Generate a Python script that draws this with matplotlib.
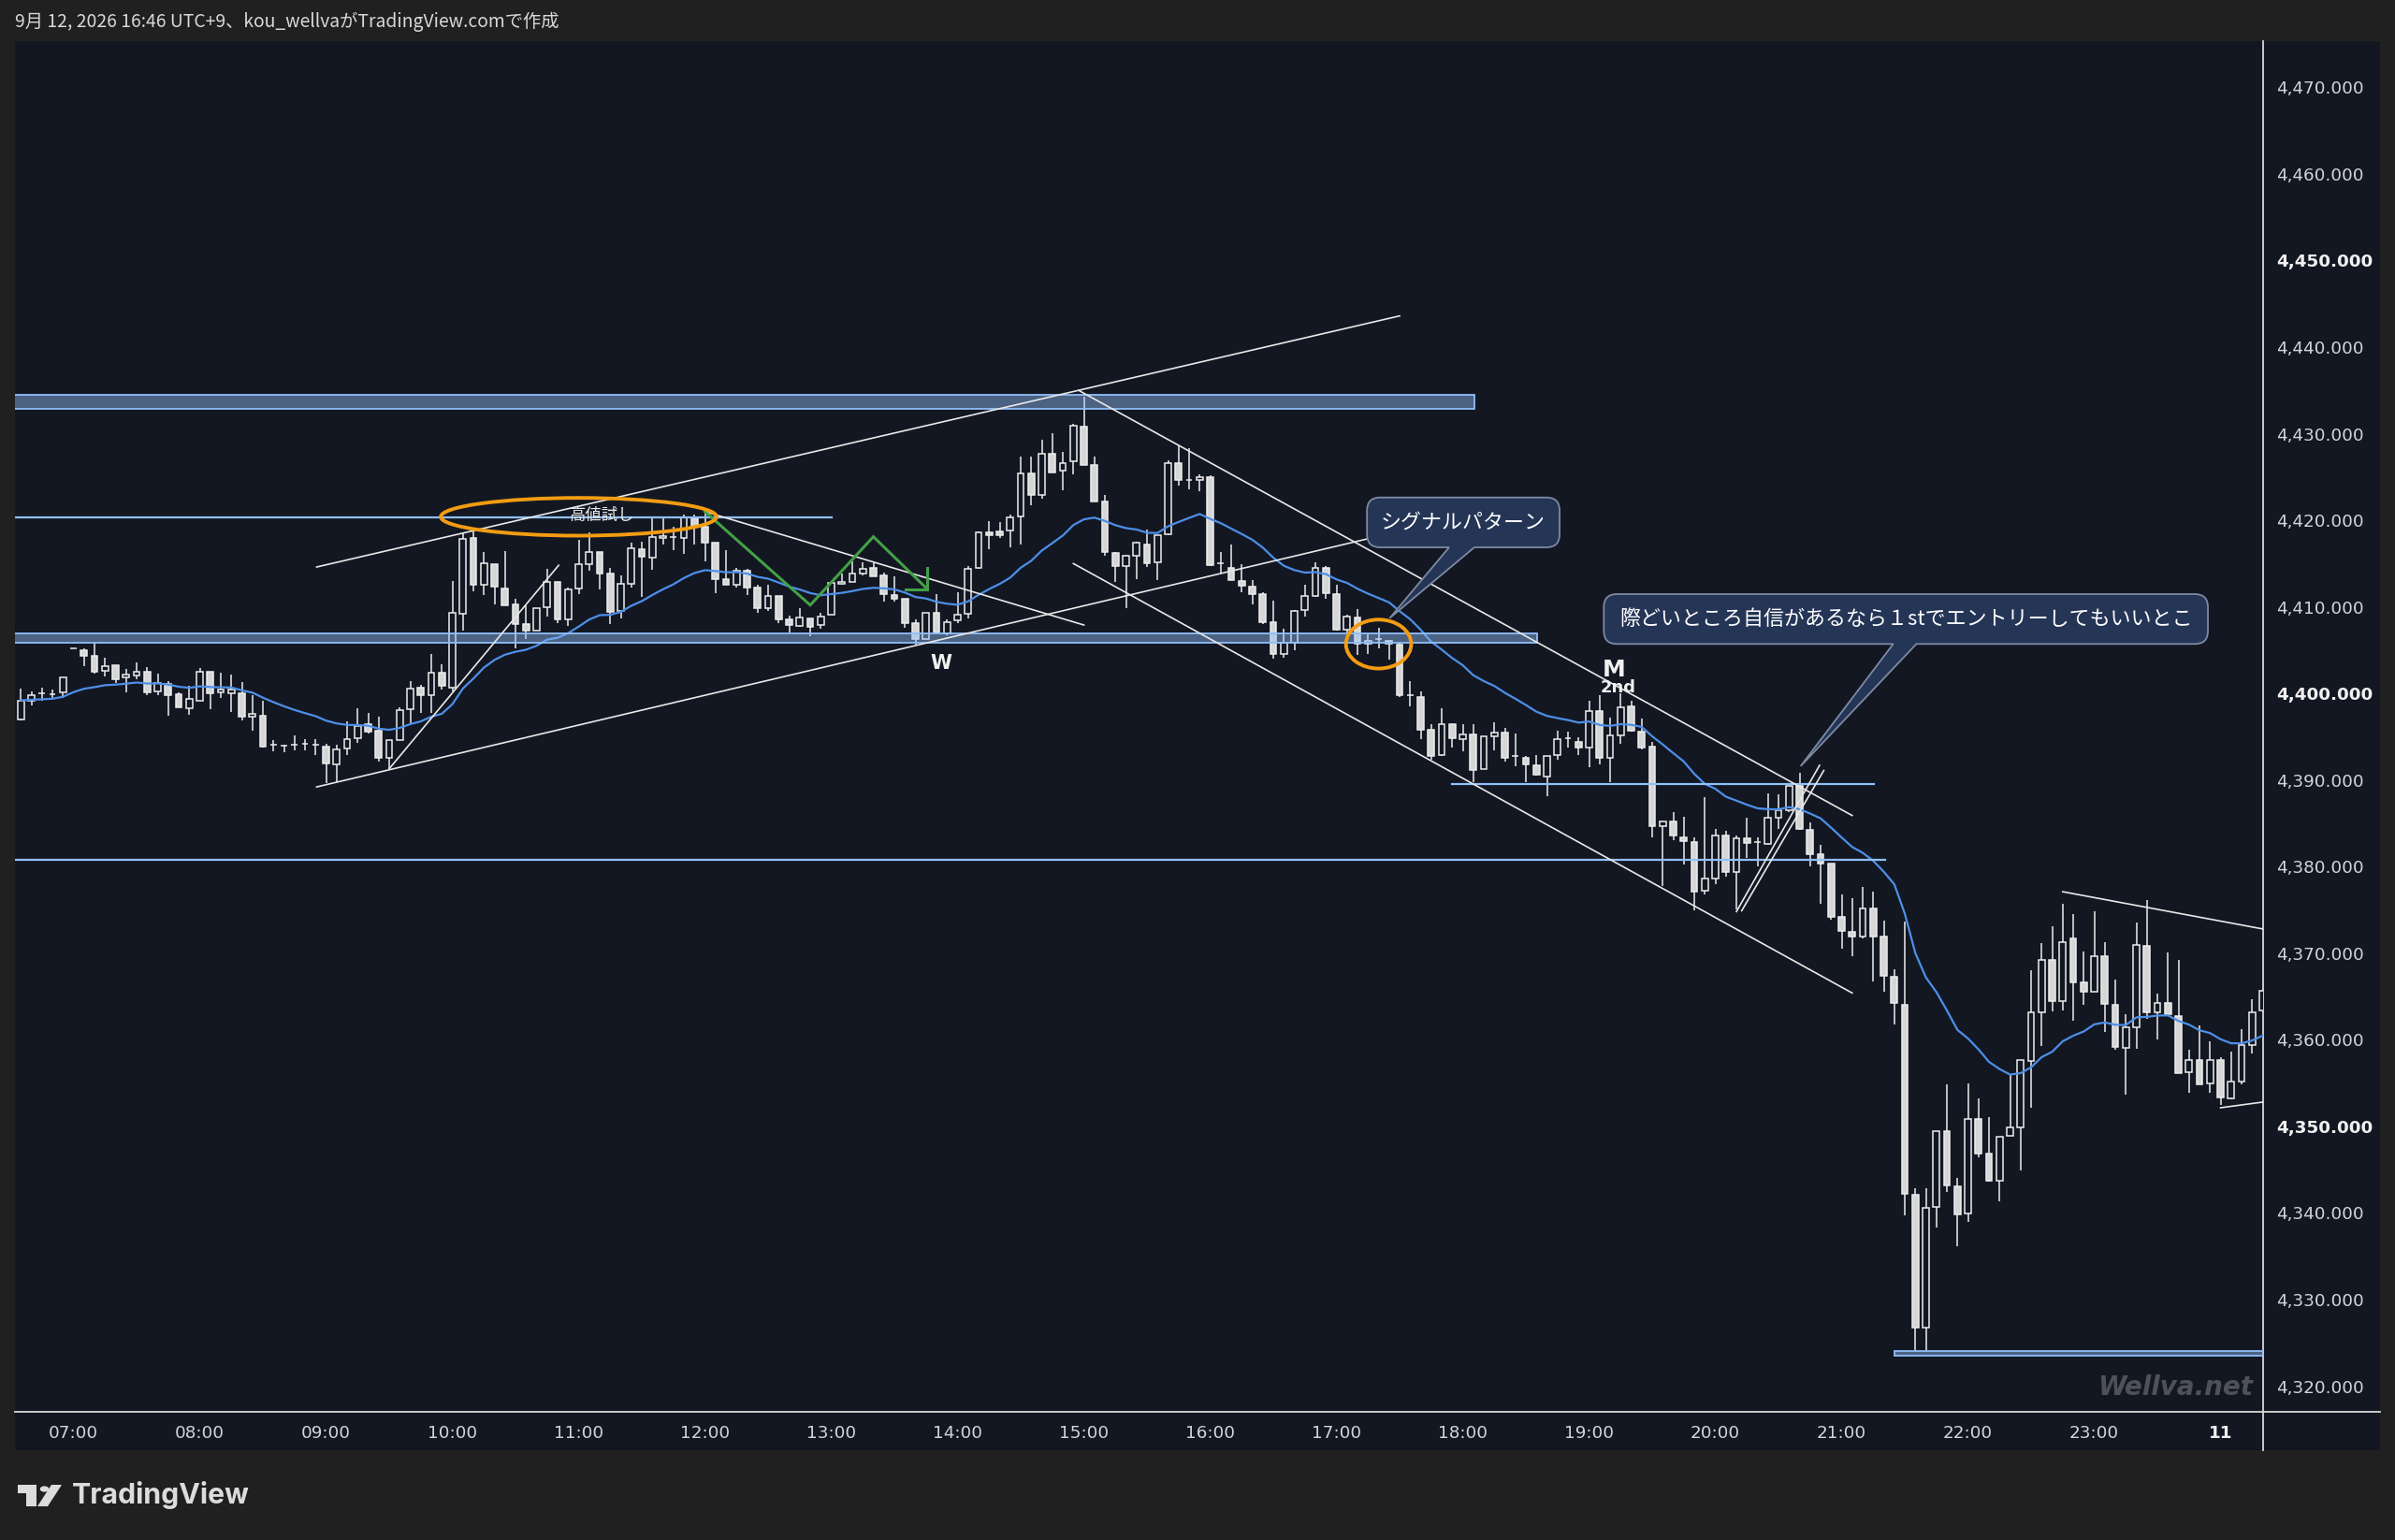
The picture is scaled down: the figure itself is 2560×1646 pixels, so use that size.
import numpy as np
import pandas as pd
import matplotlib
matplotlib.use('Agg')
import matplotlib.pyplot as plt
from matplotlib.patches import Rectangle, Ellipse, PathPatch, Polygon, Circle
from matplotlib.path import Path
from matplotlib.transforms import IdentityTransform
from matplotlib.lines import Line2D

plt.rcParams['font.family'] = ['Noto Sans CJK JP', 'DejaVu Sans']

# ---------------- data (5-minute bars, index 0 = 07:00) ----------------
first_bar = -5
opens = [4397.0, 4399.1, 4400.0, 4399.9, 4400.1, 4405.2, 4405.0, 4404.3, 4402.6, 4403.3,
         4401.8, 4402.1, 4402.5, 4400.2, 4401.1, 4399.9, 4398.3, 4399.2, 4402.5, 4400.1,
         4400.0, 4400.0, 4397.3, 4397.4, 4394.1, 4394.0, 4394.1, 4394.2, 4394.1, 4393.9,
         4391.8, 4393.6, 4394.8, 4396.5, 4395.7, 4392.6, 4394.6, 4398.2, 4400.7, 4399.8,
         4402.4, 4400.7, 4409.2, 4417.9, 4412.6, 4414.9, 4412.1, 4410.3, 4408.0, 4407.3,
         4410.0, 4412.9, 4408.6, 4412.1, 4414.9, 4416.3, 4413.9, 4409.5, 4412.7, 4416.7,
         4415.7, 4417.9, 4418.1, 4417.9, 4420.2, 4419.3, 4417.4, 4413.2, 4412.5, 4414.2,
         4412.2, 4409.9, 4411.2, 4408.6, 4407.8, 4408.7, 4407.9, 4409.1, 4412.7, 4412.9,
         4413.8, 4414.5, 4413.6, 4411.4, 4410.9, 4408.1, 4406.3, 4409.3, 4406.9, 4408.4,
         4409.2, 4414.5, 4418.6, 4418.7, 4418.8, 4420.4, 4425.4, 4422.9, 4427.7, 4425.7,
         4426.8, 4430.8, 4426.4, 4422.2, 4416.2, 4414.7, 4415.9, 4417.2, 4415.1, 4418.4,
         4426.6, 4424.7, 4424.6, 4425.0, 4415.0, 4414.5, 4413.0, 4412.3, 4411.5, 4408.2,
         4404.6, 4405.9, 4409.6, 4411.3, 4414.5, 4411.5, 4407.4, 4408.8, 4405.7, 4406.3,
         4406.1, 4405.6, 4399.8, 4399.6, 4395.8, 4392.9, 4396.5, 4394.7, 4395.3, 4391.3,
         4395.0, 4395.5, 4392.8, 4392.6, 4391.7, 4390.4, 4392.9, 4394.8, 4394.4, 4393.7,
         4398.0, 4392.6, 4395.1, 4398.5, 4395.6, 4393.9, 4384.7, 4385.2, 4383.4, 4382.8,
         4377.2, 4378.6, 4383.6, 4379.4, 4383.3, 4382.8, 4382.6, 4385.6, 4386.5, 4389.3,
         4384.2, 4381.4, 4380.3, 4374.2, 4372.5, 4371.9, 4375.2, 4371.9, 4367.3, 4364.0,
         4342.1, 4326.8, 4340.7, 4349.4, 4343.1, 4339.9, 4350.9, 4346.8, 4343.7, 4348.9,
         4349.9, 4357.6, 4363.2, 4369.2, 4364.5, 4371.7, 4366.6, 4365.6, 4369.7, 4364.0,
         4359.1, 4361.4, 4370.8, 4363.2, 4364.2, 4362.7, 4356.2, 4357.7, 4355.0, 4357.7,
         4353.2, 4355.2, 4359.4, 4363.4]
highs = [4400.6, 4400.2, 4400.7, 4400.4, 4401.8, 4405.2, 4405.2, 4405.8, 4404.1, 4403.3,
         4402.8, 4403.6, 4403.0, 4402.3, 4401.4, 4400.1, 4400.9, 4402.9, 4402.5, 4402.4,
         4402.2, 4401.3, 4399.8, 4399.1, 4394.6, 4394.1, 4395.1, 4394.7, 4394.7, 4394.2,
         4394.1, 4396.8, 4398.3, 4397.8, 4397.3, 4394.6, 4398.4, 4401.4, 4401.0, 4404.6,
         4403.4, 4413.0, 4418.5, 4418.7, 4416.3, 4414.9, 4416.4, 4410.9, 4410.2, 4409.9,
         4414.4, 4412.9, 4412.2, 4417.7, 4418.6, 4416.3, 4414.5, 4413.6, 4417.4, 4417.5,
         4420.3, 4420.3, 4419.2, 4420.7, 4420.7, 4421.2, 4417.4, 4416.5, 4414.5, 4414.4,
         4412.5, 4412.5, 4411.2, 4409.0, 4409.8, 4408.7, 4409.3, 4412.8, 4413.8, 4415.3,
         4415.1, 4415.1, 4414.0, 4413.5, 4410.9, 4408.5, 4409.3, 4411.5, 4408.6, 4411.7,
         4414.7, 4418.7, 4419.9, 4419.8, 4420.7, 4427.4, 4427.3, 4429.3, 4430.1, 4427.9,
         4431.1, 4434.3, 4427.3, 4422.9, 4416.3, 4416.0, 4417.5, 4418.9, 4418.3, 4426.9,
         4428.7, 4428.3, 4425.3, 4425.2, 4416.3, 4417.2, 4414.9, 4413.1, 4411.7, 4410.7,
         4407.5, 4409.6, 4412.5, 4415.1, 4414.7, 4412.5, 4409.1, 4409.7, 4406.8, 4407.6,
         4406.1, 4406.0, 4401.4, 4400.2, 4396.4, 4398.3, 4396.5, 4396.5, 4396.4, 4395.0,
         4396.7, 4396.0, 4395.4, 4392.8, 4392.9, 4392.8, 4395.7, 4395.6, 4394.9, 4399.1,
         4399.8, 4397.2, 4400.0, 4399.1, 4397.1, 4394.4, 4385.2, 4386.3, 4385.7, 4383.4,
         4388.0, 4384.3, 4384.1, 4383.6, 4385.6, 4383.4, 4388.5, 4388.4, 4389.3, 4390.8,
         4385.1, 4382.5, 4380.3, 4376.8, 4376.4, 4377.7, 4377.1, 4373.8, 4368.1, 4373.6,
         4342.9, 4342.9, 4349.4, 4354.9, 4344.0, 4355.0, 4353.2, 4351.1, 4348.8, 4356.0,
         4357.7, 4368.0, 4371.2, 4373.1, 4375.7, 4374.5, 4370.2, 4374.8, 4371.3, 4367.0,
         4363.0, 4373.5, 4376.1, 4365.3, 4370.1, 4369.2, 4358.8, 4361.7, 4359.8, 4358.0,
         4358.6, 4361.2, 4364.7, 4365.9]
lows = [4396.9, 4398.6, 4399.1, 4399.3, 4399.5, 4405.2, 4403.1, 4402.3, 4402.0, 4401.2,
        4400.1, 4401.6, 4399.8, 4399.8, 4397.4, 4398.4, 4397.5, 4399.2, 4398.2, 4399.5,
        4397.9, 4396.9, 4395.7, 4393.7, 4393.3, 4393.2, 4393.4, 4393.4, 4392.9, 4389.6,
        4389.8, 4392.9, 4394.3, 4395.4, 4392.1, 4391.3, 4394.6, 4396.5, 4397.7, 4397.8,
        4400.4, 4400.2, 4407.3, 4411.8, 4411.4, 4410.3, 4410.2, 4405.2, 4406.3, 4407.3,
        4408.9, 4408.1, 4407.8, 4411.5, 4414.2, 4412.0, 4408.0, 4408.7, 4412.2, 4411.1,
        4414.3, 4417.2, 4416.6, 4416.1, 4417.2, 4415.3, 4411.6, 4412.5, 4412.2, 4411.4,
        4409.3, 4409.5, 4408.1, 4407.0, 4407.7, 4406.6, 4407.5, 4409.1, 4412.5, 4412.9,
        4413.6, 4413.5, 4410.6, 4410.6, 4407.6, 4405.6, 4406.3, 4407.0, 4406.7, 4408.1,
        4408.7, 4414.4, 4416.7, 4417.9, 4416.9, 4417.2, 4421.7, 4422.5, 4425.5, 4423.5,
        4425.3, 4426.4, 4422.2, 4415.9, 4412.9, 4409.8, 4413.2, 4414.6, 4413.1, 4418.3,
        4424.0, 4423.6, 4423.4, 4414.7, 4413.9, 4413.1, 4411.7, 4410.3, 4408.0, 4404.0,
        4404.1, 4405.0, 4408.9, 4411.1, 4410.9, 4407.3, 4406.7, 4404.5, 4404.6, 4405.2,
        4403.9, 4399.6, 4398.5, 4394.7, 4392.3, 4392.8, 4393.7, 4393.3, 4389.7, 4391.3,
        4393.4, 4392.1, 4391.6, 4389.7, 4390.5, 4388.1, 4392.3, 4393.7, 4392.9, 4391.5,
        4391.8, 4389.7, 4394.2, 4395.6, 4393.5, 4383.4, 4377.8, 4383.0, 4380.2, 4374.9,
        4376.8, 4378.0, 4378.8, 4375.1, 4381.0, 4380.0, 4382.5, 4384.3, 4386.3, 4384.2,
        4380.0, 4375.7, 4373.9, 4370.5, 4369.7, 4371.7, 4366.7, 4365.5, 4361.8, 4339.7,
        4324.1, 4324.1, 4338.3, 4342.4, 4336.2, 4339.0, 4346.4, 4343.6, 4341.3, 4348.9,
        4344.9, 4352.2, 4359.3, 4363.3, 4363.4, 4362.2, 4364.0, 4365.6, 4360.9, 4358.9,
        4353.7, 4359.0, 4362.4, 4360.0, 4363.0, 4356.1, 4353.9, 4354.9, 4353.9, 4352.5,
        4353.1, 4354.9, 4358.4, 4363.2]
closes = [4399.2, 4399.8, 4400.0, 4399.9, 4401.8, 4405.2, 4404.3, 4402.5, 4403.1, 4401.6,
          4402.2, 4402.5, 4400.1, 4401.2, 4399.8, 4398.4, 4399.4, 4402.5, 4400.0, 4400.4,
          4400.4, 4397.3, 4397.6, 4393.9, 4394.1, 4394.0, 4394.1, 4394.2, 4394.1, 4391.9,
          4393.5, 4394.7, 4396.2, 4395.6, 4392.6, 4394.6, 4398.1, 4400.6, 4399.8, 4402.4,
          4400.9, 4409.3, 4417.8, 4412.6, 4415.0, 4412.3, 4410.2, 4408.0, 4407.3, 4409.9,
          4412.9, 4408.5, 4412.0, 4414.9, 4416.3, 4413.8, 4409.4, 4412.7, 4416.8, 4415.8,
          4418.1, 4418.2, 4418.1, 4420.3, 4419.3, 4417.4, 4413.2, 4412.6, 4414.2, 4412.2,
          4409.9, 4411.2, 4408.6, 4407.9, 4408.8, 4407.7, 4408.9, 4412.8, 4412.9, 4413.8,
          4414.4, 4413.5, 4411.5, 4410.9, 4408.1, 4406.3, 4409.3, 4407.0, 4408.2, 4409.1,
          4414.4, 4418.6, 4418.3, 4418.3, 4420.3, 4425.4, 4422.9, 4427.7, 4425.5, 4426.6,
          4430.9, 4426.4, 4422.2, 4416.3, 4414.7, 4415.9, 4417.4, 4415.0, 4418.3, 4426.6,
          4424.6, 4424.7, 4425.0, 4414.8, 4415.0, 4413.1, 4412.4, 4411.5, 4408.2, 4404.6,
          4405.9, 4409.5, 4411.2, 4414.5, 4411.6, 4407.4, 4408.9, 4405.7, 4406.1, 4406.3,
          4405.7, 4399.8, 4399.8, 4395.8, 4392.8, 4396.4, 4394.8, 4395.3, 4391.2, 4395.0,
          4395.5, 4392.6, 4392.8, 4391.8, 4390.6, 4392.8, 4394.7, 4394.8, 4393.8, 4398.0,
          4392.6, 4395.1, 4398.4, 4395.7, 4393.8, 4384.7, 4385.2, 4383.6, 4382.9, 4377.1,
          4378.6, 4383.6, 4379.4, 4383.3, 4382.7, 4382.8, 4385.6, 4386.5, 4389.3, 4384.3,
          4381.4, 4380.3, 4374.2, 4372.6, 4371.9, 4375.2, 4371.9, 4367.4, 4364.2, 4342.2,
          4326.8, 4340.6, 4349.4, 4343.2, 4339.8, 4350.8, 4346.9, 4343.7, 4348.8, 4349.9,
          4357.7, 4363.2, 4369.2, 4364.5, 4371.3, 4366.6, 4365.6, 4369.6, 4364.1, 4359.2,
          4361.4, 4371.0, 4363.2, 4364.2, 4363.0, 4356.1, 4357.7, 4354.9, 4357.7, 4353.3,
          4355.2, 4359.4, 4363.2, 4365.7]

hour_ticks = [0, 12, 24, 36, 48, 60, 72, 84, 96, 108, 120, 132, 144, 156, 168, 180, 192, 204]
hour_labels = ['07:00', '08:00', '09:00', '10:00', '11:00', '12:00', '13:00', '14:00', '15:00',
               '16:00', '17:00', '18:00', '19:00', '20:00', '21:00', '22:00', '23:00', '11']
price_ticks = list(range(4320, 4471, 10))
bold_prices = [4350, 4400, 4450]

# drawings (bar index, price)
bands = [(-10, 133.1, 4432.9, 4434.5), (-10, 139.1, 4405.8, 4406.96), (173.0, 215, 4323.5, 4324.1)]
hlines = [(4420.36, -10, 72.0), (4380.8, -10, 172.1), (4389.5, 131.0, 171.1)]
trendlines = [((23.1, 4414.6), (126.0, 4443.6)),
              ((23.1, 4389.2), (125.9, 4418.7)),
              ((30.0, 4391.3), (46.1, 4414.8)),
              ((60.0, 4421.0), (96.0, 4407.9)),
              ((95.5, 4435.0), (169.0, 4385.9)),
              ((95.0, 4415.0), (169.0, 4365.4)),
              ((158.0, 4374.8), (165.9, 4391.7)),
              ((158.5, 4374.9), (166.3, 4391.1)),
              ((189.0, 4377.1), (208.0, 4372.8)),
              ((204.0, 4352.15), (208.0, 4352.8))]
zig_x = [60.0, 70.0, 76.0, 81.0]
zig_y = [4421.0, 4410.2, 4418.1, 4412.2]
arrow_x = [81.1, 81.1, 79.05]
arrow_y = [4414.5, 4412.0, 4412.0]

# ---------------- style ----------------
BG = '#131722'
OUTER = '#202020'
EDGE = '#eeeeee'
DOWN = '#d6d6d6'
MA_C = '#4d8fe8'
LBLUE = '#90bff9'
TXT = '#d1d4dc'
SEP = '#d8d8d8'

W, H, DPI = 2560, 1646, 100
fig = plt.figure(figsize=(W / DPI, H / DPI), dpi=DPI, facecolor=OUTER)

def fp(x, y):
    return (x / W, 1 - y / H)

# chart panel background (plot + axes labels)
fig.patches.append(Rectangle((16 / W, 1 - 1550 / H), (2544 - 16) / W, (1550 - 44) / H,
                             transform=fig.transFigure, facecolor=BG, edgecolor='none', zorder=-10))

L, R, T, B = 16, 2419, 44, 1509
ax = fig.add_axes([L / W, 1 - B / H, (R - L) / W, (B - T) / H])
ax.set_zorder(1)
ax.set_facecolor(BG)
ax.set_xlim(-5.56, 208.04)
ax.set_ylim(4317.03, 4475.33)

# separators extending into the axis panels
fig.lines.append(Line2D([fp(R, B)[0], fp(R, 1550)[0]], [fp(R, B)[1], fp(R, 1550)[1]],
                        transform=fig.transFigure, color=SEP, lw=1.3, zorder=5))
fig.lines.append(Line2D([fp(R, B)[0], fp(2544, B)[0]], [fp(R, B)[1], fp(2544, B)[1]],
                        transform=fig.transFigure, color=SEP, lw=1.3, zorder=5))

k = np.arange(first_bar, first_bar + len(closes))
o = np.array(opens); c = np.array(closes); h = np.array(highs); l = np.array(lows)
up = c >= o
ax.vlines(k, l, h, colors=EDGE, lw=1.1, zorder=2)
bb = np.minimum(o, c)
bh = np.abs(c - o)
ax.bar(k[up], bh[up], bottom=bb[up], width=0.6, color=BG, edgecolor=EDGE, linewidth=1.1, zorder=3)
ax.bar(k[~up], bh[~up], bottom=bb[~up], width=0.6, color=DOWN, edgecolor=EDGE, linewidth=1.1, zorder=3)

ma = pd.Series(closes).ewm(span=20, adjust=False).mean()
ax.plot(k, ma, color=MA_C, lw=1.6, zorder=4)

for x0, x1, y0, y1 in bands:
    ax.add_patch(Rectangle((x0, y0), x1 - x0, y1 - y0, facecolor=LBLUE, alpha=0.45,
                           edgecolor='none', zorder=5))
    ax.add_patch(Rectangle((x0, y0), x1 - x0, y1 - y0, facecolor='none',
                           edgecolor=LBLUE, lw=1.3, zorder=5))
for y, x0, x1 in hlines:
    ax.plot([x0, x1], [y, y], color=LBLUE, lw=1.6, zorder=6)
for (x0, y0), (x1, y1) in trendlines:
    ax.plot([x0, x1], [y0, y1], color='#e8e8e8', lw=1.2, zorder=6)

ax.plot(zig_x, zig_y, color='#43a047', lw=2.2, zorder=7, solid_joinstyle='miter')
ax.plot(arrow_x, arrow_y, color='#43a047', lw=2.2, zorder=7, solid_joinstyle='miter')

ax.add_patch(Ellipse((48.0, 4420.4), 26.2, 4.36, facecolor='none', edgecolor='#f39c12', lw=2.8, zorder=8))
ax.add_patch(Ellipse((124.0, 4405.7), 6.2, 5.65, facecolor='none', edgecolor='#f39c12', lw=2.8, zorder=8))

ax.text(50.2, 4420.5, '高値試し', color='#e6e6e6', fontsize=12.5, ha='center', va='center', zorder=9)
ax.text(82.4, 4403.5, 'W', color='#f0f0f0', fontsize=15, fontweight='bold', ha='center', va='center',
        family='DejaVu Sans', zorder=9)
ax.text(146.4, 4402.7, 'M', color='#f0f0f0', fontsize=18, fontweight='bold', ha='center', va='center',
        family='DejaVu Sans', zorder=9)
ax.text(146.8, 4400.67, '2nd', color='#f0f0f0', fontsize=13, fontweight='bold', ha='center', va='center',
        family='DejaVu Sans', zorder=9)


def callout(x0, x1, y0, y1, bx0, bx1, tx, ty, text, r=14):
    Tr = ax.transData
    X0, Y0 = Tr.transform((x0, y0))
    X1, Y1 = Tr.transform((x1, y1))
    BX0 = Tr.transform((bx0, y0))[0]
    BX1 = Tr.transform((bx1, y0))[0]
    TX, TY = Tr.transform((tx, ty))
    verts = [(X0 + r, Y0), (BX0, Y0), (TX, TY), (BX1, Y0), (X1 - r, Y0),
             (X1, Y0), (X1, Y0 + r), (X1, Y1 - r), (X1, Y1), (X1 - r, Y1),
             (X0 + r, Y1), (X0, Y1), (X0, Y1 - r), (X0, Y0 + r), (X0, Y0), (X0 + r, Y0),
             (X0 + r, Y0)]
    codes = [Path.MOVETO, Path.LINETO, Path.LINETO, Path.LINETO, Path.LINETO,
             Path.CURVE3, Path.CURVE3, Path.LINETO, Path.CURVE3, Path.CURVE3,
             Path.LINETO, Path.CURVE3, Path.CURVE3, Path.LINETO, Path.CURVE3, Path.CURVE3,
             Path.CLOSEPOLY]
    p = PathPatch(Path(verts, codes), transform=IdentityTransform(), facecolor='#243556',
                  edgecolor='#7d8aa3', lw=1.3, zorder=8)
    ax.add_patch(p)
    ax.text((x0 + x1) / 2, (y0 + y1) / 2, text, color='#ffffff', fontsize=15.8,
            ha='center', va='center', zorder=9)


callout(122.9, 141.2, 4416.87, 4422.63, 130.7, 133.1, 125.06, 4408.7, 'シグナルパターン')
callout(145.4, 202.8, 4405.71, 4411.47, 172.9, 175.1, 164.1, 4391.6,
        '際どいところ自信があるなら１stでエントリーしてもいいとこ')

# axes styling
for s in ['left', 'top']:
    ax.spines[s].set_visible(False)
for s in ['right', 'bottom']:
    ax.spines[s].set_color(SEP)
    ax.spines[s].set_linewidth(1.3)
ax.yaxis.tick_right()
ax.set_yticks(price_ticks)
ax.set_yticklabels([f'{v:,.3f}' for v in price_ticks])
ax.set_xticks(hour_ticks)
ax.set_xticklabels(hour_labels)
ax.tick_params(axis='y', length=0, pad=10, labelsize=13.2, labelcolor=TXT)
ax.tick_params(axis='x', length=0, pad=10, labelsize=13.2, labelcolor=TXT)
for lab in ax.get_yticklabels():
    lab.set_family('DejaVu Sans')
    if int(round(float(lab.get_text().replace(',', '')))) in bold_prices:
        lab.set_fontweight('bold')
        lab.set_color('#f0f0f0')
for lab in ax.get_xticklabels():
    lab.set_family('DejaVu Sans')
    if lab.get_text() == '11':
        lab.set_fontweight('bold')
        lab.set_color('#f0f0f0')

ax.text(0.9954, 0.0177, 'Wellva.net', transform=ax.transAxes, ha='right', va='center',
        fontsize=20, fontweight='bold', style='italic', color='#4e5158', family='DejaVu Sans', zorder=1)

# header / footer
fig.text(16 / W, 1 - 23 / H, '9月 12, 2026 16:46 UTC+9、kou_wellvaがTradingView.comで作成',
         color='#d8d8d8', fontsize=13.9, ha='left', va='center')

# TradingView logo
LOGO = '#dcdcdc'
fig.patches.append(Polygon([fp(19, 1587), fp(39, 1587), fp(39, 1610), fp(28, 1610), fp(28, 1596), fp(19, 1596)],
                           closed=True, transform=fig.transFigure, facecolor=LOGO, edgecolor='none'))
fig.patches.append(Circle(fp(47.5, 1591.5), 4.8 / W, transform=fig.transFigure, facecolor=LOGO, edgecolor='none'))
fig.patches.append(Polygon([fp(55, 1587), fp(66, 1587), fp(51, 1610), fp(40, 1610)],
                           closed=True, transform=fig.transFigure, facecolor=LOGO, edgecolor='none'))
fig.text(77 / W, 1 - 1598 / H, 'TradingView', color=LOGO, fontsize=21.8, fontweight='bold',
         family='Inter', ha='left', va='center')

fig.savefig('out.png', dpi=DPI, facecolor=OUTER)
